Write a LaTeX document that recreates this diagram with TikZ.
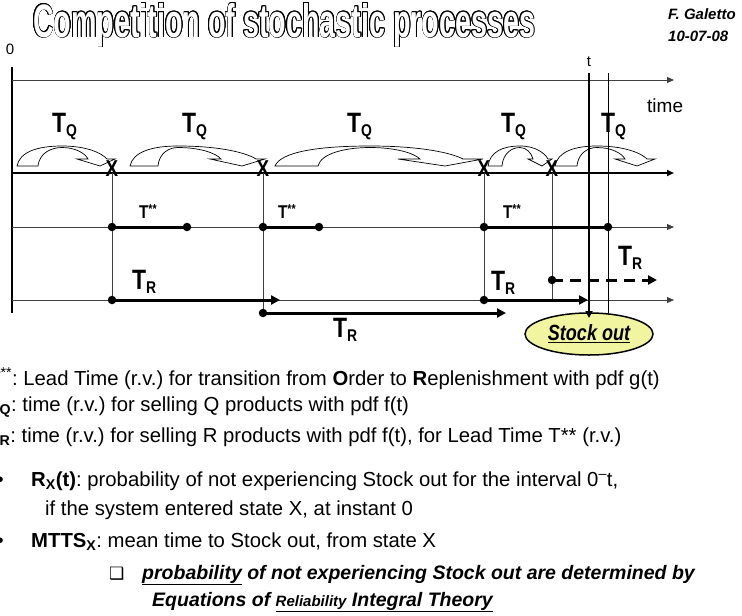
\documentclass[tikz,border=0pt]{standalone}
\usepackage{fontspec}
\usepackage{graphicx}
\usepackage[copies]{contour}
\contourlength{0.8pt}
\contournumber{16}
\setmainfont{Liberation Sans}
\newfontfamily\nf{Liberation Sans}[FakeStretch=0.82]
\newfontfamily\sym{DejaVu Sans}
\usetikzlibrary{arrows.meta,shapes.geometric}
\definecolor{stockfill}{HTML}{F2F5A0}
\AtBeginDocument{\frenchspacing}
\newcommand\TS[1]{T\raisebox{-4.5pt}{\fontsize{17}{17}\selectfont #1}}
% curved down arrow: xa xi pk xl xt xr xie xo
\newcommand\tqarrow[8]{%
\path[tqa] (#1,166)
 .. controls ({#1+0.06*(#3-#1)},152) and ({#1+0.45*(#3-#1)},146) .. (#3,146)
 .. controls ({#3+0.55*(#8-#3)},146) and ({#8-0.12*(#8-#3)},153) .. (#8,159)
 -- (#6,159) -- (#5,166) -- (#4,159) -- (#7,159)
 .. controls ({#7-0.12*(#7-#3)},153) and ({#3+0.5*(#7-#3)},147.5) .. (#3,147.5)
 .. controls ({#3-0.45*(#3-#2)},147.5) and ({#2+0.06*(#3-#2)},153) .. (#2,166)
 -- cycle;}
\begin{document}
\begin{tikzpicture}[x=1pt,y=-1pt,
  thinl/.style={draw=black!75,line width=0.9pt},
  axarrow/.style={-{Triangle[length=7pt,width=6pt]}},
  bar/.style={line width=3pt,draw=black},
  bararrow/.style={bar,-{Triangle[length=9pt,width=9pt]}},
  dot/.style={circle,fill=black,inner sep=0pt,minimum size=8.5pt},
  tqa/.style={draw=black,fill=white,line width=0.7pt},
  big/.style={font=\nf\bfseries\fontsize{28}{30}\selectfont,inner sep=0pt,anchor=base west},
  star/.style={font=\nf\bfseries\fontsize{18.5}{20}\selectfont,inner sep=0pt,anchor=base west},
  xmark/.style={font=\nf\bfseries\fontsize{23}{23}\selectfont,inner sep=0pt},
  body/.style={font=\fontsize{20.3}{22}\selectfont,inner sep=0pt,anchor=base west},
  bodybi/.style={font=\bfseries\itshape\fontsize{19.5}{22}\selectfont,inner sep=0pt,anchor=base west},
  small/.style={font=\fontsize{15}{16}\selectfont,inner sep=0pt}
]
\useasboundingbox (0,0) rectangle (742,616);
\clip (0,0) rectangle (742,616);

% title and author
\node[anchor=base west,inner sep=0pt] (title) at (33,37)
  {\contour{black}{\textcolor{white}{\resizebox{502pt}{34pt}{\bfseries Competition of stochastic processes}}}};
\node[anchor=base west,inner sep=0pt,font=\bfseries\itshape\fontsize{15}{16}\selectfont] (auth) at (668,19) {F. Galetto};
\node[anchor=base west,inner sep=0pt,font=\bfseries\itshape\fontsize{15}{16}\selectfont] (date) at (668,41) {10-07-08};
\node[small] (zero) at (10,49) {0};
\node[small] (tlab) at (589,62) {t};
\node[anchor=base west,inner sep=0pt,font=\fontsize{19}{20}\selectfont] (timelab) at (647,112) {time};

% curved TQ arrows
\tqarrow{17}{38}{62}{77}{100}{115}{88}{107}
\tqarrow{130}{158}{178}{210}{242}{265}{221}{256}
\tqarrow{275}{318}{370}{398}{445}{483}{420}{463}
\tqarrow{488}{502}{520}{528}{542}{552}{533}{548}
\tqarrow{555}{577}{597}{615}{637}{655}{625}{647}

% TQ labels
\node[big] (tq1) at (52,132) {\TS{Q}};
\node[big] (tq2) at (182,132) {\TS{Q}};
\node[big] (tq3) at (347,132) {\TS{Q}};
\node[big] (tq4) at (501,132) {\TS{Q}};
\node[big] (tq5) at (601,132) {\TS{Q}};

% axes
\coordinate (O1) at (12,67); \coordinate (O2) at (12,313);
\coordinate (A0) at (12,80);  \coordinate (A1) at (674,80);
\coordinate (B0) at (12,173); \coordinate (B1) at (674,173);
\coordinate (C0) at (12,227); \coordinate (C1) at (674,227);
\coordinate (D0) at (12,300); \coordinate (D1) at (674,300);
\draw[line width=1.2pt] (O1) -- (O2);
\draw[thinl,axarrow] (A0) -- (A1);
\draw[line width=2pt,axarrow] (B0) -- (B1);
\draw[thinl,axarrow] (C0) -- (C1);
\draw[thinl,axarrow] (D0) -- (D1);

% vertical event lines
\coordinate (v1t) at (112,173); \coordinate (v1b) at (112,300);
\coordinate (v2t) at (263,173); \coordinate (v2b) at (263,313);
\coordinate (v3t) at (484,173); \coordinate (v3b) at (484,300);
\coordinate (v4t) at (552,173); \coordinate (v4b) at (552,300);
\draw[thinl] (v1t) -- (v1b);
\draw[thinl] (v2t) -- (v2b);
\draw[thinl] (v3t) -- (v3b);
\draw[thinl] (v4t) -- (v4b);

% X marks
\node[xmark] (x1) at (112,169) {X};
\node[xmark] (x2) at (263,169) {X};
\node[xmark] (x3) at (484,169) {X};
\node[xmark] (x4) at (552,169) {X};

% T** bars
\node[dot] (s1a) at (112,227) {}; \node[dot] (s1b) at (187,227) {};
\node[dot] (s2a) at (263,227) {}; \node[dot] (s2b) at (319,227) {};
\node[dot] (s3a) at (484,227) {}; \node[dot] (s3b) at (608,227) {};
\draw[bar] (s1a.center) -- (s1b.center);
\draw[bar] (s2a.center) -- (s2b.center);
\draw[bar] (s3a.center) -- (s3b.center);
\node[star] (ts1) at (139,218) {T\raisebox{5pt}{\fontsize{13}{13}\selectfont **}};
\node[star] (ts2) at (278,218) {T\raisebox{5pt}{\fontsize{13}{13}\selectfont **}};
\node[star] (ts3) at (503,218) {T\raisebox{5pt}{\fontsize{13}{13}\selectfont **}};

% TR bars
\node[dot] (r1a) at (112,300) {}; \coordinate (r1b) at (280,300);
\node[dot] (r2a) at (263,313) {}; \coordinate (r2b) at (506,313);
\node[dot] (r3a) at (484,300) {}; \coordinate (r3b) at (588,300);
\node[dot] (r4a) at (552,280) {}; \coordinate (r4b) at (657,280);
\draw[bararrow] (r1a.center) -- (r1b);
\draw[bararrow] (r2a.center) -- (r2b);
\draw[bararrow] (r3a.center) -- (r3b);
\draw[bararrow,dash pattern=on 11pt off 7pt] (r4a.center) -- (r4b);
\node[big] (tr1) at (132,289) {\TS{R}};
\node[big] (tr2) at (333,337) {\TS{R}};
\node[big] (tr3) at (491,290) {\TS{R}};
\node[big] (tr4) at (618,265) {\TS{R}};

% stock out
\node[ellipse,draw=black,line width=1.5pt,fill=stockfill,minimum width=128pt,minimum height=42pt,inner sep=0pt,
  font=\nf\bfseries\itshape\fontsize{22}{22}\selectfont] (so) at (589,334) {\underline{Stock out}};
\coordinate (tt) at (589,73); \coordinate (te) at (589,318);
\coordinate (ut) at (608,73); \coordinate (ue) at (608,313);
\draw[line width=2.5pt,-{Triangle[length=7pt,width=7pt]}] (tt) -- (te);
\draw[line width=1pt] (ut) -- (ue);

% legend text
\node[body] (l1) at (-12,385) {\textbf{T}\textsuperscript{**}: Lead Time (r.v.) for transition from \textbf{O}rder to \textbf{R}eplenishment with pdf g(t)};
\node[body] (l2) at (-13,411) {\textbf{T\textsubscript{Q}}: time (r.v.) for selling Q products with pdf f(t)};
\node[body] (l3) at (-13,442) {\textbf{T\textsubscript{R}}: time (r.v.) for selling R products with pdf f(t), for Lead Time T** (r.v.)};
\node[body] (b1) at (-3.5,486) {•};
\node[body] (l4) at (31,486) {\textbf{R\textsubscript{X}(t)}: probability of not experiencing Stock out for the interval 0\textsuperscript{--}t,};
\node[body] (l5) at (45,515) {if the system entered state X, at instant 0};
\node[body] (b2) at (-3.5,547) {•};
\node[body] (l6) at (31,547) {\textbf{MTTS\textsubscript{X}}: mean time to Stock out, from state X};
\node[anchor=base west,inner sep=0pt,font=\sym\fontsize{17}{18}\selectfont] (box) at (109,579) {❑};
\node[bodybi] (l7) at (142,579) {\underline{probability} of not experiencing Stock out are determined by};
\node[bodybi] (l8) at (152,606) {Equations of \underline{{\fontsize{15}{15}\selectfont Reliability} Integral Theory}};
\end{tikzpicture}
\end{document}
